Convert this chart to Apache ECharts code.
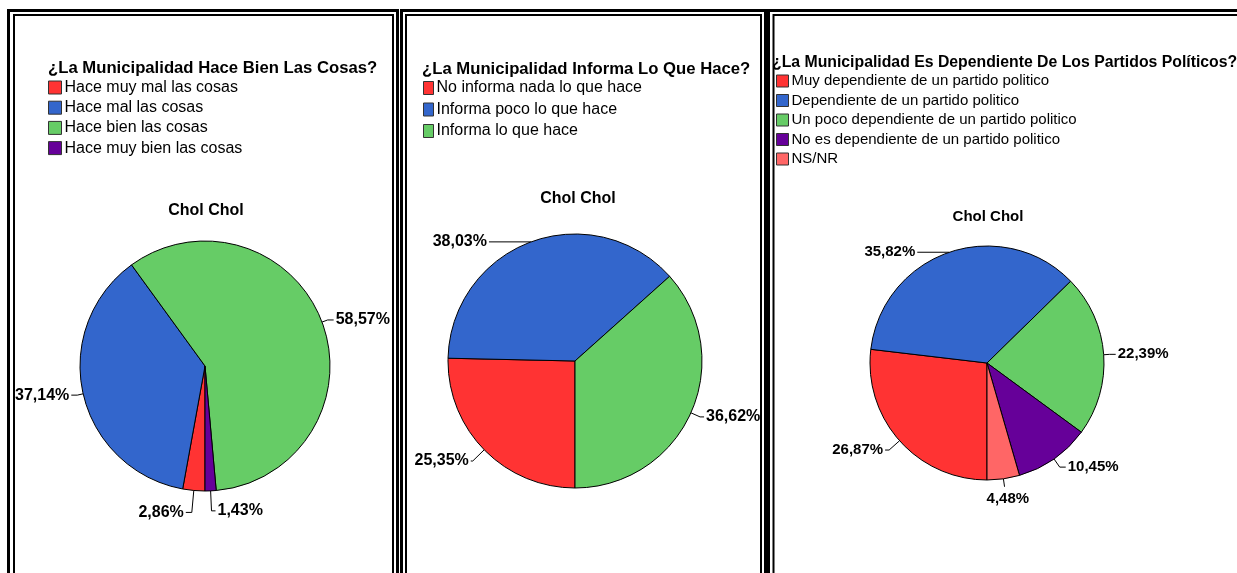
<!DOCTYPE html>
<html>
<head>
<meta charset="utf-8">
<script src="https://cdn.jsdelivr.net/npm/echarts@6/dist/echarts.min.js"></script>
<style>
html,body{margin:0;padding:0;background:#fff;}
#c{width:1237px;height:573px;}
</style>
</head>
<body>
<div id="c"></div>
<script>
// ---- data ----
const placeName = 'Chol Chol';
const q1Title = '¿La Municipalidad Hace Bien Las Cosas?';
const q1Categories = ['Hace muy mal las cosas', 'Hace mal las cosas', 'Hace bien las cosas', 'Hace muy bien las cosas'];
const q1Values = [2.86, 37.14, 58.57, 1.43];

const q2Title = '¿La Municipalidad Informa Lo Que Hace?';
const q2Categories = ['No informa nada lo que hace', 'Informa poco lo que hace', 'Informa lo que hace'];
const q2Values = [25.35, 38.03, 36.62];

const q3Title = '¿La Municipalidad Es Dependiente De Los Partidos Políticos?';
const q3Categories = ['Muy dependiente de un partido politico', 'Dependiente de un partido politico', 'Un poco dependiente de un partido politico', 'No es dependiente de un partido politico', 'NS/NR'];
const q3Values = [26.87, 35.82, 22.39, 10.45, 4.48];

// ---- styling ----
const palette = ['#FF3333', '#3366CC', '#66CC66', '#660099', '#FF6666'];
const FONT = 'Liberation Sans, Arial, sans-serif';

function fmt(v) { return v.toFixed(2).replace('.', ',') + '%'; }

function buildData(cats, vals, leaderOverrides) {
  return cats.map((name, i) => {
    const item = { name: name, value: vals[i], itemStyle: { color: palette[i] } };
    if (leaderOverrides && leaderOverrides[i]) item.labelLine = leaderOverrides[i];
    return item;
  });
}

function pieSeries(data, center, radius, fontSize, labelLayout) {
  const s = {
    type: 'pie',
    center: center,
    radius: radius,
    startAngle: 270,
    clockwise: true,
    avoidLabelOverlap: false,
    data: data,
    itemStyle: { borderColor: '#000', borderWidth: 1 },
    label: {
      show: true,
      position: 'outside',
      formatter: p => fmt(p.value),
      color: '#000',
      fontWeight: 'bold',
      fontSize: fontSize,
      fontFamily: FONT,
      distanceToLabelLine: 2
    },
    labelLine: { show: true, length: 6, length2: 6, lineStyle: { color: '#000', width: 1 } },
    emphasis: { disabled: true }
  };
  if (labelLayout) s.labelLayout = labelLayout;
  return s;
}

function legend(cats, left, top, gap, w, h, fs) {
  return {
    orient: 'vertical',
    left: left,
    top: top,
    padding: 0,
    itemGap: gap,
    itemWidth: w,
    itemHeight: h,
    icon: 'rect',
    data: cats,
    selectedMode: false,
    itemStyle: { borderColor: '#333', borderWidth: 1 },
    textStyle: { color: '#000', fontSize: fs, fontFamily: FONT, padding: [0, 0, 0, -2] }
  };
}

function titleAt(text, left, top, fs, align) {
  return {
    text: text,
    left: left,
    top: top,
    textAlign: align || 'left',
    padding: 0,
    textStyle: { color: '#000', fontWeight: 'bold', fontSize: fs, fontFamily: FONT }
  };
}

function frame(xo, wo, xi, wi) {
  return [
    { type: 'rect', shape: { x: xo, y: 10.5, width: wo, height: 700 }, style: { fill: 'none', stroke: '#000', lineWidth: 3 } },
    { type: 'rect', shape: { x: xi, y: 15, width: wi, height: 700 }, style: { fill: 'none', stroke: '#000', lineWidth: 2 } }
  ];
}

const chart = echarts.init(document.getElementById('c'), null, { renderer: 'canvas' });
chart.setOption({
  animation: false,
  backgroundColor: '#fff',
  graphic: [].concat(
    frame(8.5, 389, 14, 379),
    frame(401.5, 364, 406, 355),
    frame(768.5, 600, 773.5, 600)
  ),
  title: [
    titleAt(q1Title, 48, 60, 16.7),
    titleAt(placeName, 206, 203, 16, 'center'),
    titleAt(q2Title, 422, 61, 16.7),
    titleAt(placeName, 578, 191, 16, 'center'),
    titleAt(q3Title, 772, 55, 15.8),
    titleAt(placeName, 988, 209, 15, 'center')
  ],
  legend: [
    legend(q1Categories, 48, 79.5, 4.2, 13, 13, 16),
    legend(q2Categories, 423, 80, 5.5, 10, 13, 16),
    legend(q3Categories, 776, 73.5, 4.5, 12, 12, 15)
  ],
  series: [
    pieSeries(buildData(q1Categories, q1Values, { 0: { length: 22, length2: 6 }, 3: { length: 20, length2: 4 } }), [205, 366], 125, 16),
    pieSeries(buildData(q2Categories, q2Values, { 0: { length: 16, length2: 2 }, 1: { length: 0, length2: 42 }, 2: { length: 10, length2: 4 } }), [575, 361], 127, 16),
    pieSeries(buildData(q3Categories, q3Values, { 0: { length: 14, length2: 4 }, 1: { length: 0, length2: 32 }, 3: { length: 10, length2: 6 }, 4: { length: 8, length2: 0 } }), [987, 363], 117, 15,
      p => (p.dataIndex === 4 ? { dx: -20, dy: 12 } : {}))
  ]
});
</script>
</body>
</html>
